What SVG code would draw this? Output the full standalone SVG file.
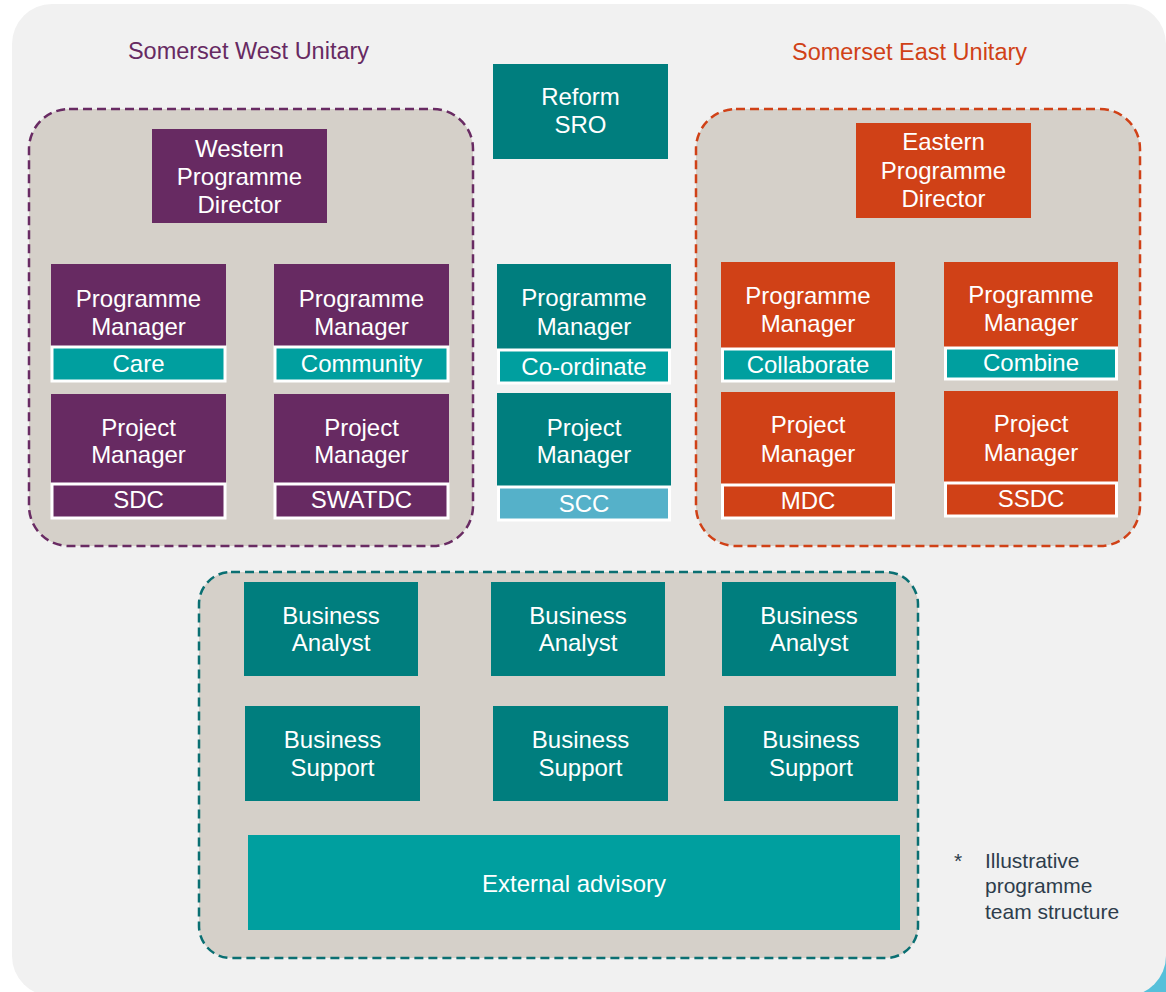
<svg xmlns="http://www.w3.org/2000/svg" width="1166" height="992" viewBox="0 0 1166 992">
<style>
text{font-family:"Liberation Sans",Arial,sans-serif;text-anchor:middle;}
.t{font-size:24px;fill:#ffffff;}
.ttl{font-size:23.5px;}
.pur{fill:#672a62;}
.org{fill:#d04117;}
.tdk{fill:#007e7e;}
.tlt{fill:#009f9f;}
.band{stroke:#ffffff;stroke-width:3;}
.dash{fill:#d5d0c9;stroke-width:2.5;stroke-dasharray:9 5;}
.note{font-size:21px;fill:#2e3d4c;text-anchor:start;}
</style>
<rect x="0" y="0" width="1166" height="992" fill="#ffffff"/>
<rect x="1120" y="954" width="46" height="38" fill="#56c0da"/>
<rect x="12" y="4" width="1154" height="992" rx="40" ry="40" fill="#f1f1f1"/>

<text class="ttl" x="248.5" y="59" fill="#672a62">Somerset West Unitary</text>
<text class="ttl" x="909.5" y="60" fill="#d04117">Somerset East Unitary</text>

<rect id="west-area" class="dash" x="29" y="109" width="444" height="437" rx="40" ry="40" stroke="#692b63"/>
<rect id="east-area" class="dash" x="696" y="109" width="444" height="437" rx="40" ry="40" stroke="#d04117"/>
<rect id="support-area" class="dash" x="199" y="572" width="719" height="386" rx="32" ry="32" stroke="#0a6f72"/>

<g id="reform-sro">
<rect class="tdk" x="493" y="64" width="175" height="95"/>
<text class="t" x="580.5" y="105">Reform</text>
<text class="t" x="580.5" y="133">SRO</text>
</g>

<g id="western-director">
<rect class="pur" x="152" y="129" width="175" height="94"/>
<text class="t" x="239.5" y="157">Western</text>
<text class="t" x="239.5" y="185">Programme</text>
<text class="t" x="239.5" y="213">Director</text>
</g>

<g id="eastern-director">
<rect class="org" x="856" y="123" width="175" height="95"/>
<text class="t" x="943.5" y="150">Eastern</text>
<text class="t" x="943.5" y="179">Programme</text>
<text class="t" x="943.5" y="207">Director</text>
</g>

<g id="west-pm-care">
<rect class="pur" x="51" y="264" width="175" height="82"/>
<text class="t" x="138.5" y="307">Programme</text>
<text class="t" x="138.5" y="335">Manager</text>
<rect class="tlt band" x="52" y="347" width="173" height="34"/>
<text class="t" x="138.5" y="372">Care</text>
</g>

<g id="west-pm-community">
<rect class="pur" x="274" y="264" width="175" height="82"/>
<text class="t" x="361.5" y="307">Programme</text>
<text class="t" x="361.5" y="335">Manager</text>
<rect class="tlt band" x="275" y="347" width="173" height="34"/>
<text class="t" x="361.5" y="372">Community</text>
</g>

<g id="west-proj-sdc">
<rect class="pur" x="51" y="394" width="175" height="89"/>
<text class="t" x="138.5" y="436">Project</text>
<text class="t" x="138.5" y="463">Manager</text>
<rect class="pur band" x="52" y="484" width="173" height="34"/>
<text class="t" x="138.5" y="508">SDC</text>
</g>

<g id="west-proj-swatdc">
<rect class="pur" x="274" y="394" width="175" height="89"/>
<text class="t" x="361.5" y="436">Project</text>
<text class="t" x="361.5" y="463">Manager</text>
<rect class="pur band" x="275" y="484" width="173" height="34"/>
<text class="t" x="361.5" y="508">SWATDC</text>
</g>

<g id="mid-pm-coordinate">
<rect class="tdk" x="497" y="264" width="174" height="85"/>
<text class="t" x="584" y="306">Programme</text>
<text class="t" x="584" y="335">Manager</text>
<rect class="tlt band" x="498.5" y="350" width="171" height="33"/>
<text class="t" x="584" y="375">Co-ordinate</text>
</g>

<g id="mid-proj-scc">
<rect class="tdk" x="497" y="393" width="174" height="93"/>
<text class="t" x="584" y="436">Project</text>
<text class="t" x="584" y="463">Manager</text>
<rect class="band" fill="#55b1c9" x="498.5" y="487" width="171" height="33"/>
<text class="t" x="584" y="512">SCC</text>
</g>

<g id="east-pm-collaborate">
<rect class="org" x="721" y="262" width="174" height="86"/>
<text class="t" x="808" y="304">Programme</text>
<text class="t" x="808" y="332">Manager</text>
<rect class="tlt band" x="722.5" y="349" width="171" height="32"/>
<text class="t" x="808" y="373">Collaborate</text>
</g>

<g id="east-pm-combine">
<rect class="org" x="944" y="262" width="174" height="85"/>
<text class="t" x="1031" y="303">Programme</text>
<text class="t" x="1031" y="331">Manager</text>
<rect class="tlt band" x="945.5" y="348" width="171" height="31"/>
<text class="t" x="1031" y="371">Combine</text>
</g>

<g id="east-proj-mdc">
<rect class="org" x="721" y="392" width="174" height="92"/>
<text class="t" x="808" y="433">Project</text>
<text class="t" x="808" y="462">Manager</text>
<rect class="org band" x="722.5" y="485" width="171" height="33"/>
<text class="t" x="808" y="509">MDC</text>
</g>

<g id="east-proj-ssdc">
<rect class="org" x="944" y="391" width="174" height="91"/>
<text class="t" x="1031" y="432">Project</text>
<text class="t" x="1031" y="461">Manager</text>
<rect class="org band" x="945.5" y="483" width="171" height="33"/>
<text class="t" x="1031" y="507">SSDC</text>
</g>

<g id="ba-1">
<rect class="tdk" x="244" y="582" width="174" height="94"/>
<text class="t" x="331" y="624">Business</text>
<text class="t" x="331" y="651">Analyst</text>
</g>
<g id="ba-2">
<rect class="tdk" x="491" y="582" width="174" height="94"/>
<text class="t" x="578" y="624">Business</text>
<text class="t" x="578" y="651">Analyst</text>
</g>
<g id="ba-3">
<rect class="tdk" x="722" y="582" width="174" height="94"/>
<text class="t" x="809" y="624">Business</text>
<text class="t" x="809" y="651">Analyst</text>
</g>

<g id="bs-1">
<rect class="tdk" x="245" y="706" width="175" height="95"/>
<text class="t" x="332.5" y="748">Business</text>
<text class="t" x="332.5" y="776">Support</text>
</g>
<g id="bs-2">
<rect class="tdk" x="493" y="706" width="175" height="95"/>
<text class="t" x="580.5" y="748">Business</text>
<text class="t" x="580.5" y="776">Support</text>
</g>
<g id="bs-3">
<rect class="tdk" x="724" y="706" width="174" height="95"/>
<text class="t" x="811" y="748">Business</text>
<text class="t" x="811" y="776">Support</text>
</g>

<g id="external-advisory">
<rect class="tlt" x="248" y="835" width="652" height="95"/>
<text class="t" x="574" y="892">External advisory</text>
</g>

<g id="connectors"></g>

<g id="note">
<text class="note" x="954" y="868">*</text>
<text class="note" x="985" y="868">Illustrative</text>
<text class="note" x="985" y="893">programme</text>
<text class="note" x="985" y="919">team structure</text>
</g>
</svg>
